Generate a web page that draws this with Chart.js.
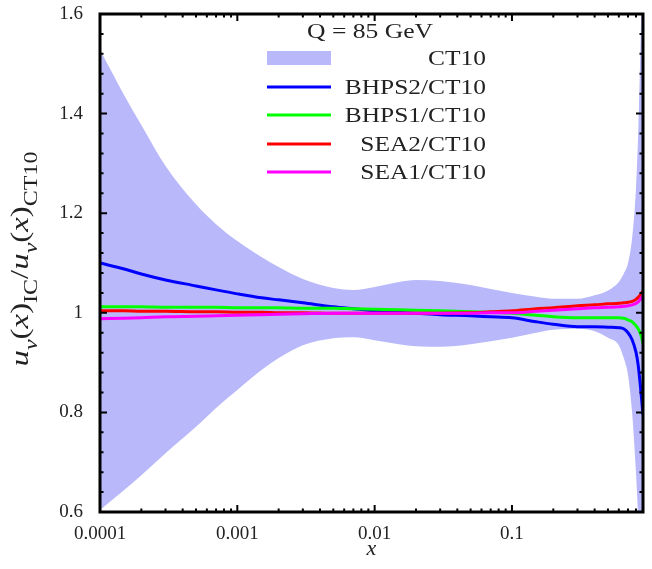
<!DOCTYPE html>
<html lang="en">
<head>
<meta charset="UTF-8">
<title>u_v ratio at Q = 85 GeV</title>
<style>
    html, body { margin: 0; padding: 0; background: #fff; }
</style>
</head>
<body>
<canvas id="chart" width="652" height="569"></canvas>

<script src="https://cdn.jsdelivr.net/npm/chart.js@4/dist/chart.umd.min.js"></script>
<script>
    // x values (log scale) shared by every curve
    const xs = [1e-4, 1.5e-4, 2e-4, 3e-4, 5e-4, 7e-4, 1e-3, 1.5e-3, 2e-3, 3e-3, 5e-3, 7e-3,
        0.01, 0.015, 0.02, 0.03, 0.05, 0.07, 0.1, 0.15, 0.2, 0.3, 0.4, 0.5, 0.6, 0.65,
        0.7, 0.75, 0.8, 0.83, 0.86, 0.88, 0.9];

    // CT10 uncertainty band
    const ct10Upper = [1.528, 1.437, 1.377, 1.295, 1.218, 1.178, 1.144, 1.112, 1.092, 1.068, 1.050, 1.046,
        1.052, 1.062, 1.066, 1.064, 1.056, 1.048, 1.040, 1.032, 1.028, 1.028, 1.035, 1.045, 1.062, 1.078,
        1.100, 1.150, 1.250, 1.360, 1.520, 1.640, 1.750];
    const ct10Lower = [0.604, 0.644, 0.674, 0.718, 0.771, 0.809, 0.845, 0.885, 0.909, 0.935, 0.949, 0.951,
        0.945, 0.937, 0.933, 0.932, 0.937, 0.943, 0.950, 0.960, 0.966, 0.968, 0.963, 0.950, 0.935, 0.910,
        0.875, 0.800, 0.680, 0.590, 0.500, 0.450, 0.400];

    const bhps2 = [1.100, 1.088, 1.078, 1.066, 1.054, 1.046, 1.038, 1.030, 1.026, 1.020, 1.012, 1.008,
        1.004, 1.001, 0.999, 0.996, 0.994, 0.992, 0.990, 0.982, 0.977, 0.972, 0.972, 0.971, 0.970, 0.968,
        0.960, 0.946, 0.921, 0.895, 0.855, 0.825, 0.795];
    const bhps1 = [1.012, 1.012, 1.012, 1.011, 1.011, 1.011, 1.010, 1.010, 1.010, 1.009, 1.009, 1.008,
        1.007, 1.006, 1.005, 1.004, 1.002, 1.001, 0.999, 0.995, 0.992, 0.990, 0.990, 0.990, 0.990, 0.989,
        0.986, 0.982, 0.974, 0.968, 0.959, 0.950, 0.938];
    const sea2 = [1.004, 1.004, 1.003, 1.003, 1.002, 1.002, 1.001, 1.001, 1.000, 1.000, 0.999, 0.999,
        0.999, 0.999, 0.999, 0.999, 1.000, 1.002, 1.004, 1.008, 1.010, 1.014, 1.016, 1.018, 1.019, 1.020,
        1.021, 1.023, 1.027, 1.031, 1.036, 1.040, 1.044];
    const sea1 = [0.988, 0.989, 0.990, 0.992, 0.993, 0.994, 0.995, 0.996, 0.997, 0.998, 0.999, 0.999,
        0.999, 0.999, 0.999, 0.999, 0.999, 1.000, 1.000, 1.003, 1.005, 1.008, 1.010, 1.011, 1.012, 1.013,
        1.014, 1.016, 1.019, 1.022, 1.027, 1.031, 1.035];

    const seriesNames = ['CT10', 'BHPS2/CT10', 'BHPS1/CT10', 'SEA2/CT10', 'SEA1/CT10'];
    const lineColors = ['#0000ff', '#00ff00', '#ff0000', '#ff00ff'];
    const bandColor = 'rgb(184,184,250)';

    const xTickValues = [1e-4, 1e-3, 1e-2, 1e-1];
    const xTickLabels = ['0.0001', '0.001', '0.01', '0.1'];
    const yTickValues = [0.6, 0.8, 1.0, 1.2, 1.4, 1.6];
    const yTickLabels = ['0.6', '0.8', '1', '1.2', '1.4', '1.6'];

    const plotTitle = 'Q = 85 GeV';
    const SERIF = '"Liberation Serif", "Times New Roman", serif';
    const TEXT = '#222';

    function pts(ys) {
        return xs.map(function (x, i) { return {x: x, y: ys[i]}; });
    }

    // draw text stretched to a given width (the original uses wide TeX fonts)
    function fillStretched(ctx, text, x, y, width, align) {
        const w = ctx.measureText(text).width;
        const k = width / w;
        ctx.save();
        ctx.textAlign = 'left';
        let x0 = x;
        if (align === 'right') x0 = x - width;
        if (align === 'center') x0 = x - width / 2;
        ctx.translate(x0, y);
        ctx.scale(k, 1);
        ctx.fillText(text, 0, 0);
        ctx.restore();
    }

    const lineSets = [bhps2, bhps1, sea2, sea1].map(function (ys, i) {
        return {
            label: seriesNames[i + 1],
            data: pts(ys),
            borderColor: lineColors[i],
            borderWidth: 3,
            pointRadius: 0,
            fill: false,
            cubicInterpolationMode: 'monotone',
            order: 4 - i
        };
    });

    // frame with inward ticks on all four sides
    const framePlugin = {
        id: 'frame',
        afterDraw(chart) {
            const {ctx, chartArea: a, scales} = chart;
            ctx.save();
            ctx.strokeStyle = '#000';
            ctx.lineWidth = 2;
            ctx.beginPath();
            for (let k = 0; k <= 25; k++) {
                const v = 0.6 + k * 0.04;
                const y = scales.y.getPixelForValue(v);
                const len = (k % 5 === 0) ? 7 : 3.5;
                ctx.moveTo(a.left, y); ctx.lineTo(a.left + len, y);
                ctx.moveTo(a.right, y); ctx.lineTo(a.right - len, y);
            }
            for (let d = -4; d <= -1; d++) {
                for (let m = 1; m <= 9; m++) {
                    const v = m * Math.pow(10, d);
                    if (v > 0.9) continue;
                    const x = scales.x.getPixelForValue(v);
                    const len = (m === 1) ? 7 : 3.5;
                    ctx.moveTo(x, a.bottom); ctx.lineTo(x, a.bottom - len);
                    ctx.moveTo(x, a.top); ctx.lineTo(x, a.top + len);
                }
            }
            ctx.stroke();
            ctx.lineWidth = 3;
            ctx.strokeRect(a.left, a.top, a.right - a.left, a.bottom - a.top);
            ctx.restore();
        }
    };

    // legend in the style of the original plot: swatch left, text right aligned
    const legendPlugin = {
        id: 'texLegend',
        afterDraw(chart) {
            const ctx = chart.ctx;
            ctx.save();
            ctx.fillStyle = TEXT;
            ctx.font = '21px ' + SERIF;
            ctx.textBaseline = 'middle';
            fillStretched(ctx, plotTitle, 370, 32, 126, 'center');

            const rowY = [58, 87, 115, 144, 172];
            ctx.font = '22px ' + SERIF;
            const scale = 141 / 122;
            chart.data.datasets.forEach(function (ds) {
                if (!ds.showInTexLegend) return;
                const r = ds.legendRow;
                const y = rowY[r];
                if (r === 0) {
                    ctx.fillStyle = ds.backgroundColor;
                    ctx.fillRect(267, y - 7, 64, 14);
                } else {
                    ctx.strokeStyle = ds.borderColor;
                    ctx.lineWidth = 3;
                    ctx.beginPath();
                    ctx.moveTo(267, y); ctx.lineTo(331, y);
                    ctx.stroke();
                }
                ctx.fillStyle = TEXT;
                const w = ctx.measureText(ds.label).width * scale;
                fillStretched(ctx, ds.label, 486, y + 1, w, 'right');
            });
            ctx.restore();
        }
    };

    // y axis title with sub scripts: u_v(x)_IC / u_v(x)_CT10
    const yTitlePlugin = {
        id: 'yTitle',
        afterDraw(chart) {
            const ctx = chart.ctx;
            const main = 26, sub = 19, subShift = 9, length = 215;
            const segs = [
                ['u', true, false], ['v', true, true], ['(', false, false], ['x', true, false], [')', false, false],
                ['IC', false, true], ['/', false, false],
                ['u', true, false], ['v', true, true], ['(', false, false], ['x', true, false], [')', false, false],
                ['CT10', false, true]
            ];
            function font(s) {
                return (s[1] ? 'italic ' : '') + (s[2] ? sub : main) + 'px ' + SERIF;
            }
            ctx.save();
            let total = 0;
            segs.forEach(function (s) { ctx.font = font(s); total += ctx.measureText(s[0]).width; });
            ctx.translate(28, 259);
            ctx.rotate(-Math.PI / 2);
            ctx.scale(length / total, 1);
            ctx.fillStyle = TEXT;
            ctx.textBaseline = 'alphabetic';
            let x = -total / 2;
            segs.forEach(function (s) {
                ctx.font = font(s);
                ctx.fillText(s[0], x, s[2] ? subShift : 0);
                x += ctx.measureText(s[0]).width;
            });
            ctx.restore();
        }
    };

    const datasets = [
        {
            label: seriesNames[0],
            data: pts(ct10Upper),
            borderWidth: 0,
            borderColor: bandColor,
            backgroundColor: bandColor,
            pointRadius: 0,
            fill: '+1',
            cubicInterpolationMode: 'monotone',
            order: 10,
            showInTexLegend: true,
            legendRow: 0
        },
        {
            label: 'CT10 lower',
            data: pts(ct10Lower),
            borderWidth: 0,
            borderColor: bandColor,
            pointRadius: 0,
            fill: false,
            cubicInterpolationMode: 'monotone',
            order: 10
        }
    ].concat(lineSets.map(function (ds, i) {
        ds.showInTexLegend = true;
        ds.legendRow = i + 1;
        return ds;
    }));

    new Chart(document.getElementById('chart').getContext('2d'), {
        type: 'line',
        data: {datasets: datasets},
        options: {
            responsive: false,
            animation: false,
            layout: {padding: {left: 0, right: 9, top: 14, bottom: 0}},
            plugins: {legend: {display: false}, tooltip: {enabled: false}},
            scales: {
                x: {
                    type: 'logarithmic',
                    min: 1e-4,
                    max: 0.9,
                    grid: {display: false, drawTicks: false},
                    border: {display: false},
                    afterBuildTicks: function (scale) {
                        scale.ticks = xTickValues.map(function (v) { return {value: v}; });
                    },
                    afterFit: function (scale) {
                        scale.height = 57;
                        scale.paddingLeft = 0;
                        scale.paddingRight = 0;
                    },
                    ticks: {
                        autoSkip: false,
                        maxRotation: 0,
                        padding: 11,
                        color: TEXT,
                        font: {family: SERIF, size: 19},
                        callback: function (v) { return xTickLabels[xTickValues.indexOf(v)] || ''; }
                    },
                    title: {
                        display: true,
                        text: 'x',
                        color: TEXT,
                        font: {family: SERIF, size: 22, style: 'italic'},
                        padding: {top: 0, bottom: 7}
                    }
                },
                y: {
                    min: 0.6,
                    max: 1.6,
                    grid: {display: false, drawTicks: false},
                    border: {display: false},
                    afterBuildTicks: function (scale) {
                        scale.ticks = yTickValues.map(function (v) { return {value: v}; });
                    },
                    afterFit: function (scale) {
                        scale.width = 100;
                        scale.paddingTop = 0;
                        scale.paddingBottom = 0;
                    },
                    ticks: {
                        padding: 17,
                        color: TEXT,
                        font: {family: SERIF, size: 19},
                        callback: function (v) {
                            const i = yTickValues.findIndex(function (t) { return Math.abs(t - v) < 1e-9; });
                            return i >= 0 ? yTickLabels[i] : '';
                        }
                    }
                }
            }
        },
        plugins: [framePlugin, legendPlugin, yTitlePlugin]
    });
</script>
</body>
</html>
